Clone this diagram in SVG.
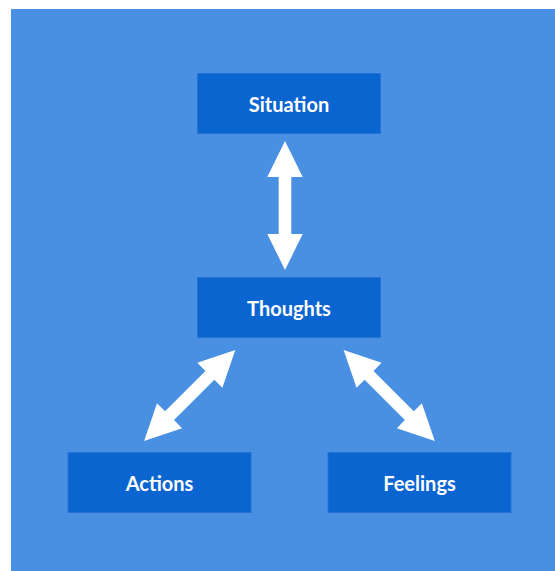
<svg xmlns="http://www.w3.org/2000/svg" xmlns:xlink="http://www.w3.org/1999/xlink" width="555" height="571" viewBox="0 0 555 571">
<style>
.box{fill:#0b65d1;stroke:#2472d6;stroke-width:1}
.lbl{font-family:Lato,"Open Sans","Liberation Sans",sans-serif;font-weight:bold;font-size:20px;fill:#ffffff;text-anchor:middle}
.arr{fill:#ffffff}
</style>
<defs>
<path id="dbl" d="M0,-64.5 L17.7,-28.5 L6.3,-28.5 L6.3,28.5 L17.7,28.5 L0,64.5 L-17.7,28.5 L-6.3,28.5 L-6.3,-28.5 L-17.7,-28.5 Z"/>
</defs>
<rect x="0" y="0" width="555" height="571" fill="#ffffff"/>
<rect x="11" y="9" width="544" height="562" fill="#4a90e2"/>
<g id="connectors" class="arr">
<use xlink:href="#dbl" transform="translate(285,205.5)"/>
<use xlink:href="#dbl" transform="translate(189.7,395.5) rotate(45)"/>
<use xlink:href="#dbl" transform="translate(389.2,395.5) rotate(-45)"/>
</g>
<g id="situation"><rect class="box" x="197.5" y="73.5" width="183" height="60"/><text class="lbl" x="289" y="112">Situation</text></g>
<g id="thoughts"><rect class="box" x="197.5" y="277.5" width="183" height="60"/><text class="lbl" x="289" y="316">Thoughts</text></g>
<g id="actions"><rect class="box" x="68" y="452.5" width="183" height="60"/><text class="lbl" x="159.5" y="491">Actions</text></g>
<g id="feelings"><rect class="box" x="328" y="452.5" width="183" height="60"/><text class="lbl" x="419.5" y="491">Feelings</text></g>
</svg>
